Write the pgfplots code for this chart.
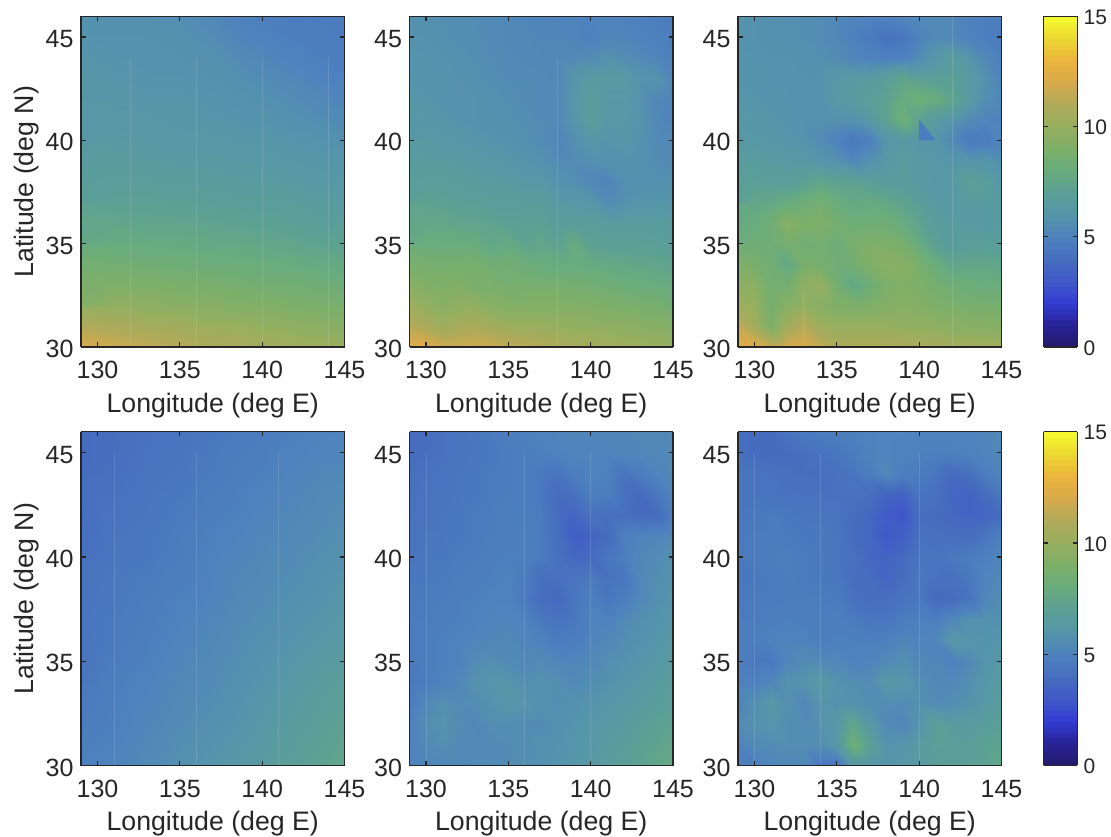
\documentclass[border=0pt]{standalone}
\usepackage{fontspec}
\setmainfont{Liberation Sans}
\usepackage{pgfplots}
\usepackage{pgfplotstable}
\pgfplotsset{compat=1.18}
\definecolor{fr}{RGB}{38,38,38}
\pgfplotsset{
 colormap={mc}{rgb255=(35,25,105) rgb255=(40,35,150) rgb255=(50,60,210) rgb255=(65,90,200) rgb255=(70,110,190) rgb255=(78,130,190) rgb255=(85,150,170) rgb255=(90,160,150) rgb255=(105,172,125) rgb255=(125,175,105) rgb255=(150,175,95) rgb255=(175,170,90) rgb255=(215,170,75) rgb255=(235,180,60) rgb255=(235,215,50) rgb255=(245,250,45)},
 panel/.style={
  scale only axis, width=263.5bp,
  xmin=129, xmax=145, ymin=30, ymax=46, view={0}{90},
  xtick={130,135,140,145}, ytick={30,35,40,45},
  point meta min=0, point meta max=15, colormap name=mc,
  tick align=inside, major tick length=4.5bp, axis line style={fr,line width=1.3bp},
  tick style={fr,line width=1.3bp}, axis on top,
  ticklabel style={font=\fontsize{25bp}{28bp}\selectfont, text=fr},
  yticklabel style={yshift=-2bp},
  label style={font=\fontsize{26.7bp}{30bp}\selectfont, text=fr},
  /pgf/number format/assume math mode=true,
  xlabel={Longitude (deg E)},
  xticklabel shift=11bp,
  yticklabel shift=4bp,
  xlabel shift=7bp,
  anchor=south west},
 top/.style={height=330.7bp}, bot/.style={height=333.7bp},
 lat/.style={ylabel={Latitude (deg N)}, ylabel shift=0bp},
 cbar/.style={colorbar sampled, colorbar style={samples=61, at={(1.16,1)}, anchor=north west, width=33.5bp, height=#1,
   ytick={0,5,10,15}, yticklabel pos=right, tick align=inside, major tick length=4.5bp,
   axis line style={fr,line width=1.3bp}, tick style={fr,line width=1.3bp},
   ticklabel style={font=\fontsize{21bp}{24bp}\selectfont, text=fr},
   yticklabel style={xshift=3bp,yshift=-1bp},
   /pgf/number format/assume math mode=true}},
 sA/.style={surf, mesh/cols=9, mesh/rows=10},
 sC/.style={surf, mesh/cols=9, mesh/rows=18},
 sB/.style={surf, mesh/cols=17, mesh/rows=18},
 st/.style={draw=white,opacity=.12,line width=0.8bp,no markers}
}
\newcommand{\coarse}[1]{\addplot3[sA,shader=interp] table[x index=0, y index=0, z index=0, x expr={129+2*mod(\coordindex,9)}, y expr={30+2*floor(\coordindex/9)}]{#1};}
\newcommand{\medium}[1]{\addplot3[sC,shader=interp] table[x index=0, y index=0, z index=0, x expr={129+2*mod(\coordindex,9)}, y expr={30+floor(\coordindex/9)}]{#1};}
\newcommand{\fine}[1]{\addplot3[sB,shader=interp] table[x index=0, y index=0, z index=0, x expr={129+mod(\coordindex,17)}, y expr={30+floor(\coordindex/17)}]{#1};}
\newcommand{\streak}[3]{\addplot3[st] coordinates {(#1,#2,15)(#1,#3,15)};}
\pgfplotstableread[row sep=\\,header=false]{
12.0\\11.8\\11.5\\11.2\\10.9\\10.7\\10.5\\10.3\\10.1\\
11.0\\10.8\\10.6\\10.4\\10.2\\10.0\\9.8\\9.6\\9.4\\
10.0\\9.9\\9.7\\9.5\\9.4\\9.2\\9.1\\8.9\\8.8\\
9.2\\9.1\\9.0\\8.9\\8.8\\8.6\\8.5\\8.4\\8.2\\
8.6\\8.5\\8.4\\8.3\\8.2\\8.1\\8.0\\7.8\\7.7\\
8.0\\7.9\\7.9\\7.8\\7.7\\7.6\\7.5\\7.3\\7.2\\
7.6\\7.5\\7.4\\7.4\\7.3\\7.2\\7.1\\6.9\\6.8\\
7.2\\7.1\\7.1\\7.0\\6.9\\6.8\\6.8\\6.6\\6.5\\
6.9\\6.8\\6.8\\6.7\\6.6\\6.5\\6.5\\6.3\\6.2\\
6.6\\6.6\\6.5\\6.4\\6.4\\6.3\\6.2\\6.1\\6.0\\
6.4\\6.4\\6.3\\6.2\\6.2\\6.1\\6.0\\5.9\\5.7\\
6.3\\6.2\\6.2\\6.1\\6.0\\5.9\\5.8\\5.6\\5.4\\
6.2\\6.1\\6.0\\6.0\\5.9\\5.8\\5.6\\5.4\\5.1\\
6.1\\6.0\\5.9\\5.9\\5.8\\5.6\\5.4\\5.1\\4.9\\
6.0\\5.9\\5.8\\5.8\\5.7\\5.4\\5.1\\4.9\\4.8\\
5.9\\5.8\\5.8\\5.7\\5.5\\5.1\\4.9\\4.8\\4.7\\
5.8\\5.7\\5.7\\5.6\\5.3\\4.9\\4.8\\4.7\\4.7\\
5.8\\5.7\\5.7\\5.6\\5.3\\4.9\\4.8\\4.7\\4.7\\
}\tA
\pgfplotstableread[row sep=\\,header=false]{
12.3\\12.3\\11.8\\11.8\\11.8\\11.7\\11.5\\11.3\\11.1\\10.9\\10.7\\10.6\\10.5\\10.4\\10.2\\10.1\\10.0\\
11.2\\10.8\\10.3\\10.7\\10.8\\10.5\\10.3\\10.2\\10.1\\10.0\\9.9\\9.8\\9.7\\9.6\\9.5\\9.4\\9.2\\
10.3\\9.9\\9.5\\9.8\\9.8\\9.4\\9.3\\9.3\\9.3\\9.3\\9.2\\9.1\\9.0\\8.9\\8.8\\8.7\\8.5\\
9.5\\9.2\\9.0\\9.2\\8.8\\8.9\\8.6\\8.7\\8.7\\8.7\\8.6\\8.5\\8.4\\8.2\\8.1\\8.0\\7.9\\
8.8\\8.7\\8.7\\8.7\\8.8\\8.4\\8.5\\8.2\\8.0\\7.9\\8.0\\7.8\\7.7\\7.6\\7.5\\7.4\\7.3\\
8.2\\8.1\\8.0\\8.0\\8.0\\7.5\\7.8\\7.3\\7.5\\7.2\\7.9\\7.1\\7.0\\7.0\\7.0\\6.9\\6.8\\
7.7\\7.6\\7.6\\7.4\\7.4\\7.3\\7.0\\7.0\\7.1\\6.7\\6.8\\6.8\\6.6\\6.6\\6.6\\6.6\\6.5\\
7.3\\7.2\\7.1\\7.0\\6.9\\6.8\\6.8\\6.7\\6.7\\6.3\\6.2\\6.1\\5.5\\5.8\\6.0\\6.0\\6.0\\
6.9\\6.8\\6.8\\6.7\\6.6\\6.5\\6.4\\6.2\\6.2\\5.8\\5.7\\5.3\\5.1\\5.6\\5.7\\5.7\\5.7\\
6.6\\6.5\\6.5\\6.4\\6.3\\6.2\\6.1\\5.9\\5.8\\5.5\\5.5\\5.7\\5.8\\5.8\\5.7\\5.5\\5.4\\
6.4\\6.3\\6.2\\6.1\\6.0\\5.9\\5.8\\5.7\\5.5\\5.2\\5.7\\6.1\\5.9\\6.1\\5.8\\5.4\\5.3\\
6.2\\6.1\\6.0\\5.9\\5.8\\5.7\\5.7\\5.6\\5.5\\5.4\\6.0\\6.8\\6.2\\6.2\\5.9\\5.3\\5.0\\
6.1\\6.0\\5.9\\5.8\\5.8\\5.7\\5.6\\5.5\\5.4\\5.4\\6.1\\6.7\\6.3\\6.3\\5.8\\5.3\\5.1\\
6.0\\5.9\\5.9\\5.8\\5.7\\5.6\\5.5\\5.5\\5.4\\5.3\\6.0\\6.5\\6.4\\6.4\\5.9\\5.9\\5.1\\
5.9\\5.9\\5.8\\5.7\\5.6\\5.5\\5.4\\5.3\\5.3\\5.3\\5.4\\5.5\\5.9\\5.6\\5.4\\5.2\\4.9\\
5.8\\5.8\\5.7\\5.6\\5.6\\5.4\\5.3\\5.3\\5.2\\5.2\\5.1\\4.9\\5.2\\5.2\\5.0\\4.9\\4.8\\
5.8\\5.7\\5.6\\5.6\\5.5\\5.4\\5.3\\5.2\\5.2\\5.1\\5.1\\5.0\\5.1\\5.0\\4.9\\4.8\\4.7\\
5.8\\5.7\\5.6\\5.6\\5.5\\5.4\\5.3\\5.2\\5.2\\5.1\\5.1\\5.0\\5.1\\5.0\\4.9\\4.8\\4.7\\
}\tB
\pgfplotstableread[row sep=\\,header=false]{
12.3\\12.3\\11.6\\12.0\\12.2\\11.5\\11.0\\11.0\\11.0\\11.0\\10.9\\10.8\\10.7\\10.6\\10.5\\10.4\\10.3\\
11.5\\10.5\\8.9\\10.5\\11.2\\10.3\\10.0\\10.0\\10.0\\10.0\\9.9\\9.8\\9.7\\9.5\\9.5\\9.4\\9.3\\
10.4\\10.0\\8.6\\9.4\\9.9\\9.4\\9.0\\9.0\\9.1\\9.3\\9.4\\9.3\\9.0\\8.9\\8.8\\8.7\\8.7\\
9.6\\9.6\\8.5\\8.6\\9.7\\10.0\\8.6\\7.6\\8.3\\9.0\\9.2\\9.0\\8.6\\8.3\\8.2\\8.1\\8.0\\
9.0\\8.8\\8.4\\7.6\\8.8\\8.7\\8.4\\8.5\\9.1\\9.5\\9.4\\8.8\\8.0\\7.4\\7.5\\7.5\\7.4\\
8.4\\8.3\\8.4\\8.7\\8.4\\8.5\\8.2\\8.8\\9.1\\9.0\\8.8\\7.9\\7.0\\6.6\\6.8\\6.9\\6.8\\
8.0\\8.0\\8.4\\9.4\\9.0\\9.1\\8.6\\8.2\\8.3\\8.3\\7.9\\7.3\\6.7\\6.5\\6.4\\6.3\\6.4\\
7.6\\7.5\\7.6\\7.9\\8.3\\8.6\\8.1\\7.7\\7.8\\7.6\\7.3\\6.8\\6.3\\6.4\\6.5\\6.5\\6.3\\
7.1\\7.0\\6.9\\6.8\\7.0\\7.5\\7.2\\7.2\\6.9\\6.7\\6.6\\6.4\\6.1\\6.3\\7.0\\6.8\\6.0\\
6.7\\6.6\\6.5\\6.4\\6.3\\6.0\\5.8\\5.3\\5.8\\6.3\\6.6\\6.4\\6.2\\6.0\\6.0\\6.1\\5.6\\
6.3\\6.2\\6.1\\6.0\\5.9\\5.5\\5.0\\4.5\\4.9\\6.0\\6.4\\6.0\\6.0\\5.4\\4.5\\4.7\\5.2\\
6.2\\6.1\\6.0\\5.9\\5.8\\5.8\\5.8\\5.8\\6.3\\7.2\\8.4\\7.2\\6.4\\6.0\\5.4\\5.1\\5.0\\
6.1\\6.0\\5.9\\5.9\\5.8\\5.8\\6.3\\6.5\\6.9\\7.2\\7.9\\8.3\\8.0\\7.4\\6.4\\5.6\\5.2\\
6.0\\5.9\\5.9\\5.8\\5.8\\5.8\\6.2\\6.4\\6.4\\6.8\\7.4\\7.0\\6.9\\7.0\\6.5\\5.8\\5.0\\
5.9\\5.9\\5.8\\5.8\\5.7\\5.7\\5.5\\5.2\\5.0\\4.9\\5.0\\5.5\\6.2\\6.6\\6.0\\5.4\\4.9\\
5.8\\5.8\\5.7\\5.7\\5.6\\5.5\\5.3\\4.9\\4.6\\4.2\\4.4\\5.0\\5.4\\5.3\\5.0\\4.8\\4.7\\
5.8\\5.8\\5.7\\5.7\\5.6\\5.5\\5.3\\5.2\\5.1\\5.1\\5.3\\5.3\\5.5\\5.3\\5.0\\4.9\\4.9\\
5.8\\5.8\\5.7\\5.7\\5.6\\5.5\\5.3\\5.2\\5.1\\5.1\\5.3\\5.3\\5.5\\5.3\\5.0\\4.9\\4.9\\
}\tC
\pgfplotstableread[row sep=\\,header=false]{
4.9\\5.1\\5.4\\5.7\\6.0\\6.3\\6.7\\7.1\\7.5\\
4.7\\4.9\\5.2\\5.5\\5.7\\6.0\\6.4\\6.8\\7.2\\
4.5\\4.8\\5.0\\5.3\\5.5\\5.8\\6.1\\6.5\\6.8\\
4.4\\4.6\\4.8\\5.1\\5.3\\5.6\\5.8\\6.1\\6.4\\
4.3\\4.5\\4.7\\4.9\\5.1\\5.4\\5.6\\5.8\\6.1\\
4.2\\4.4\\4.5\\4.7\\5.0\\5.2\\5.4\\5.6\\5.8\\
4.1\\4.3\\4.4\\4.6\\4.8\\5.0\\5.2\\5.4\\5.6\\
4.0\\4.1\\4.3\\4.4\\4.6\\4.8\\5.0\\5.2\\5.3\\
3.9\\4.0\\4.2\\4.3\\4.5\\4.6\\4.8\\5.0\\5.1\\
3.9\\4.0\\4.2\\4.3\\4.5\\4.6\\4.8\\5.0\\5.1\\
}\tD
\pgfplotstableread[row sep=\\,header=false]{
5.0\\5.2\\5.3\\5.3\\5.4\\5.4\\5.5\\5.6\\5.7\\5.9\\6.1\\6.3\\6.6\\6.9\\7.2\\7.5\\7.7\\
5.0\\5.4\\5.6\\5.4\\5.4\\5.4\\5.5\\5.6\\5.7\\5.8\\6.0\\6.2\\6.5\\6.7\\7.1\\7.3\\7.5\\
5.0\\5.6\\5.9\\5.5\\5.3\\5.6\\5.6\\5.5\\5.5\\5.7\\5.9\\6.1\\6.3\\6.5\\6.8\\7.1\\7.3\\
4.7\\5.3\\5.7\\5.5\\5.6\\5.8\\6.1\\6.0\\5.7\\5.6\\5.7\\5.9\\6.1\\6.3\\6.5\\6.7\\7.0\\
4.5\\4.7\\5.0\\5.3\\5.8\\6.0\\6.0\\5.6\\5.8\\5.6\\5.4\\5.6\\5.8\\6.0\\6.2\\6.5\\6.7\\
4.6\\4.7\\4.9\\5.0\\5.5\\5.6\\5.4\\5.3\\5.4\\5.2\\5.2\\5.3\\5.6\\5.8\\6.0\\6.2\\6.5\\
4.7\\4.8\\4.9\\5.0\\5.1\\5.2\\5.3\\5.1\\5.0\\4.6\\4.8\\5.1\\5.3\\5.6\\5.8\\6.0\\6.2\\
4.7\\4.7\\4.8\\4.9\\5.0\\5.1\\5.2\\5.0\\4.5\\4.3\\4.5\\5.0\\5.0\\5.4\\5.7\\5.9\\6.1\\
4.6\\4.6\\4.7\\4.8\\4.9\\5.0\\5.0\\4.5\\4.0\\3.8\\4.4\\4.9\\4.4\\4.8\\5.3\\5.7\\5.9\\
4.5\\4.5\\4.6\\4.7\\4.8\\4.9\\5.0\\4.7\\4.0\\4.1\\4.3\\4.6\\4.2\\4.4\\5.3\\5.6\\5.8\\
4.4\\4.5\\4.5\\4.6\\4.7\\4.8\\4.9\\4.9\\4.6\\4.1\\3.7\\3.8\\4.4\\4.8\\5.2\\5.5\\5.7\\
4.3\\4.4\\4.4\\4.5\\4.6\\4.7\\4.8\\4.9\\4.6\\4.0\\3.2\\3.5\\3.9\\4.8\\5.1\\5.2\\5.4\\
4.3\\4.3\\4.4\\4.5\\4.6\\4.7\\4.8\\4.8\\4.6\\3.9\\3.6\\4.2\\4.0\\4.1\\3.8\\3.9\\4.8\\
4.2\\4.3\\4.3\\4.4\\4.5\\4.6\\4.7\\4.8\\4.5\\3.9\\4.2\\4.8\\4.8\\4.1\\3.8\\4.5\\5.1\\
4.1\\4.2\\4.3\\4.4\\4.5\\4.6\\4.7\\4.8\\4.5\\4.3\\4.8\\5.0\\4.9\\4.3\\4.7\\5.1\\5.3\\
3.9\\4.0\\4.2\\4.3\\4.4\\4.5\\4.7\\4.8\\4.9\\5.0\\5.1\\5.1\\5.1\\5.2\\5.2\\5.3\\5.3\\
3.9\\4.0\\4.2\\4.3\\4.5\\4.6\\4.8\\4.9\\5.0\\5.1\\5.2\\5.2\\5.2\\5.2\\5.3\\5.3\\5.4\\
3.9\\4.0\\4.2\\4.3\\4.5\\4.6\\4.8\\4.9\\5.0\\5.1\\5.2\\5.2\\5.2\\5.2\\5.3\\5.3\\5.4\\
}\tE
\pgfplotstableread[row sep=\\,header=false]{
4.9\\4.8\\5.1\\5.3\\5.3\\4.4\\4.4\\6.3\\6.0\\5.9\\6.2\\6.5\\6.7\\6.8\\7.0\\7.2\\7.6\\
5.0\\5.4\\5.5\\5.6\\5.6\\5.6\\6.2\\8.3\\7.0\\5.9\\6.0\\6.5\\7.0\\6.9\\6.8\\7.1\\7.3\\
5.5\\5.8\\6.0\\5.6\\5.5\\5.8\\6.2\\7.5\\6.3\\5.4\\5.2\\5.9\\7.0\\6.5\\6.5\\6.7\\7.0\\
5.1\\5.7\\6.2\\5.7\\5.3\\5.9\\5.8\\5.8\\5.6\\5.6\\5.5\\5.7\\5.5\\5.6\\5.9\\6.3\\6.7\\
4.9\\4.9\\5.3\\5.8\\5.9\\6.3\\5.8\\5.6\\5.5\\6.2\\6.1\\5.6\\5.3\\5.3\\5.7\\6.1\\6.4\\
4.8\\4.5\\4.5\\5.2\\5.5\\5.4\\5.3\\5.0\\5.1\\5.4\\5.7\\5.3\\5.2\\4.9\\5.4\\5.9\\6.2\\
4.8\\4.8\\5.0\\5.0\\5.0\\4.8\\4.9\\4.9\\4.8\\4.9\\5.2\\5.1\\5.2\\6.2\\6.0\\5.9\\6.0\\
4.8\\4.7\\4.8\\4.9\\4.8\\4.8\\4.8\\4.6\\4.4\\4.4\\4.7\\4.9\\4.8\\5.3\\5.8\\5.8\\5.8\\
4.6\\4.6\\4.6\\4.7\\4.7\\4.7\\4.6\\4.2\\4.0\\4.0\\4.3\\4.5\\3.8\\3.9\\4.3\\5.2\\5.6\\
4.5\\4.5\\4.6\\4.7\\4.6\\4.5\\4.5\\4.0\\3.9\\3.6\\4.0\\4.5\\4.2\\4.1\\4.5\\5.1\\5.4\\
4.5\\4.6\\4.7\\4.8\\4.6\\4.5\\4.4\\4.1\\3.7\\3.5\\3.8\\4.4\\4.3\\4.5\\4.7\\4.9\\5.2\\
4.6\\4.6\\4.6\\4.6\\4.5\\4.5\\4.4\\3.9\\3.6\\2.9\\3.3\\4.2\\4.1\\4.0\\4.0\\4.4\\4.9\\
4.5\\4.5\\4.6\\4.5\\4.4\\4.4\\4.3\\4.0\\3.7\\3.1\\2.8\\4.0\\3.9\\3.7\\3.5\\3.6\\3.9\\
4.4\\4.3\\4.3\\4.2\\4.2\\4.2\\4.2\\4.2\\4.0\\3.5\\3.4\\4.3\\4.1\\3.6\\3.5\\3.9\\4.6\\
4.4\\4.3\\4.2\\4.1\\4.0\\4.0\\4.2\\4.4\\4.8\\5.3\\4.8\\4.7\\4.3\\3.8\\4.1\\4.7\\5.1\\
4.1\\3.9\\3.9\\3.9\\4.1\\4.2\\4.4\\4.7\\5.0\\5.1\\5.0\\4.9\\4.9\\4.9\\5.0\\5.1\\5.3\\
4.0\\3.9\\3.9\\4.3\\4.6\\4.7\\4.8\\4.9\\5.0\\5.1\\5.1\\5.0\\5.0\\5.0\\5.0\\5.2\\5.4\\
4.0\\3.9\\3.9\\4.3\\4.6\\4.7\\4.8\\4.9\\5.0\\5.1\\5.1\\5.0\\5.0\\5.0\\5.0\\5.2\\5.4\\
}\tF
\begin{document}
\begin{tikzpicture}
\useasboundingbox (0bp,0bp) rectangle (1111bp,837bp);
\begin{axis}[panel,top,lat,at={(81bp,490bp)}]\medium{\tA}
\streak{132}{30}{44}\streak{136}{30}{44}\streak{140}{30}{44}\streak{144}{30}{44}\end{axis}
\begin{axis}[panel,top,at={(409.5bp,490bp)}]\fine{\tB}\streak{138}{30}{44}\end{axis}
\begin{axis}[panel,top,cbar=330.7bp,at={(738bp,490bp)}]\fine{\tC}
\addplot3[draw=none,fill={rgb,255:red,72;green,125;blue,192}] coordinates {(140,41,5)(140,40,5)(141,40,5)} -- cycle;
\streak{142}{30}{46}\streak{133}{30.3}{32.5}\end{axis}
\begin{axis}[panel,bot,lat,at={(81bp,71.5bp)}]\coarse{\tD}
\streak{131}{30}{45}\streak{136}{30}{45}\streak{141}{30}{45}\end{axis}
\begin{axis}[panel,bot,at={(409.5bp,71.5bp)}]\fine{\tE}
\streak{130}{30}{45}\streak{136}{30}{45}\streak{140}{30}{45}\end{axis}
\begin{axis}[panel,bot,cbar=333.7bp,at={(738bp,71.5bp)}]\fine{\tF}
\streak{130}{30}{45}\streak{134}{30}{45}\streak{140}{30}{45}\end{axis}
\end{tikzpicture}
\end{document}
